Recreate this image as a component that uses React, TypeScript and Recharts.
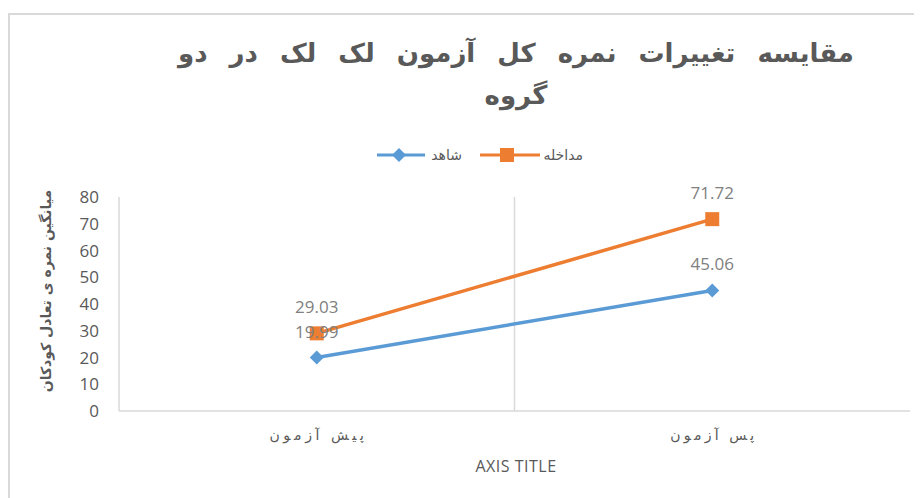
import { LineChart, Line, XAxis, YAxis, ReferenceLine, LabelList } from "recharts";

const categories = ["پیش آزمون", "پس آزمون"];
const controlValues = [19.99, 45.06]; // شاهد
const interventionValues = [29.03, 71.72]; // مداخله
const yTicks = [0, 10, 20, 30, 40, 50, 60, 70, 80];

const data = categories.map((name, i) => ({
    x: i + 0.5,
    name,
    control: controlValues[i],
    intervention: interventionValues[i],
}));

const BLUE = "#5B9BD5";
const ORANGE = "#ED7D31";
const TEXT = "#595959";
const GRID = "#d9d9d9";
const persianFont = "'DejaVu Sans', sans-serif";
const numFont = "'Open Sans', sans-serif";

const Diamond = (props: any) => {
    const { cx, cy } = props;
    if (cx == null || cy == null) return null;
    const r = 7;
    return <path d={`M${cx},${cy - r}L${cx + r},${cy}L${cx},${cy + r}L${cx - r},${cy}Z`} fill={BLUE} />;
};

const Square = (props: any) => {
    const { cx, cy } = props;
    if (cx == null || cy == null) return null;
    return <rect x={cx - 7} y={cy - 7} width={14} height={14} fill={ORANGE} />;
};

const CategoryTick = (props: any) => {
    const { x, y, payload } = props;
    const label = categories[Math.floor(payload.value)];
    return (
        <text
            x={x}
            y={y}
            dy={12}
            textAnchor="middle"
            fill={TEXT}
            fontFamily={persianFont}
            fontSize={14}
            textLength={label.length * 10.5}
            lengthAdjust="spacing"
        >
            {label}
        </text>
    );
};

const fmt = (v: any) => Number(v).toFixed(2);

export default function App() {
    return (
        <div
            style={{
                position: "relative",
                width: 914,
                height: 485,
                marginTop: 5,
                borderTop: `2px solid ${GRID}`,
                borderLeft: `2px solid ${GRID}`,
                boxSizing: "border-box",
            }}
        >
            <div
                style={{
                    position: "absolute",
                    top: 17,
                    left: 0,
                    width: 1012,
                    textAlign: "center",
                    fontFamily: persianFont,
                    fontWeight: "bold",
                    fontSize: 26,
                    color: TEXT,
                    direction: "rtl",
                    lineHeight: "42px",
                    wordSpacing: 13,
                }}
            >
                مقایسه تغییرات نمره کل آزمون لک لک در دو
                <br />
                گروه
            </div>

            {/* legend */}
            <div style={{ position: "absolute", top: 130, left: 0, width: 914, height: 20 }}>
                <svg width={914} height={20} style={{ position: "absolute", left: 0, top: 0 }}>
                    <line x1={367} x2={415} y1={10} y2={10} stroke={BLUE} strokeWidth={3} />
                    <path d="M389,3L396,10L389,17L382,10Z" fill={BLUE} />
                    <text x={452} y={15} textAnchor="end" fontFamily={persianFont} fontSize={14} fill={TEXT}>
                        شاهد
                    </text>
                    <line x1={470} x2={530} y1={10} y2={10} stroke={ORANGE} strokeWidth={3} />
                    <rect x={490} y={3} width={14} height={14} fill={ORANGE} />
                    <text x={573} y={15} textAnchor="end" fontFamily={persianFont} fontSize={14} fill={TEXT}>
                        مداخله
                    </text>
                </svg>
            </div>

            <div
                style={{
                    position: "absolute",
                    left: 36 - 110,
                    top: 268,
                    width: 220,
                    textAlign: "center",
                    transform: "rotate(-90deg)",
                    fontFamily: persianFont,
                    fontWeight: "bold",
                    fontSize: 14,
                    color: TEXT,
                    direction: "rtl",
                }}
            >
                میانگین نمره ی تعادل کودکان
            </div>

            <div
                style={{
                    position: "absolute",
                    left: 0,
                    width: 1012,
                    top: 440,
                    textAlign: "center",
                    fontFamily: numFont,
                    fontSize: 16,
                    color: TEXT,
                    letterSpacing: 0.5,
                }}
            >
                AXIS TITLE
            </div>

            <div style={{ position: "absolute", left: -2, top: -7 }}>
                <LineChart
                    width={914}
                    height={490}
                    data={data}
                    margin={{ top: 189, right: 12, bottom: 57, left: 71 }}
                >
                    <XAxis
                        type="number"
                        dataKey="x"
                        domain={[0, 2]}
                        ticks={data.map((d) => d.x)}
                        height={30}
                        tickLine={false}
                        tickMargin={11}
                        axisLine={{ stroke: GRID, strokeWidth: 1.5 }}
                        tick={<CategoryTick />}
                    />
                    <YAxis
                        domain={[0, 80]}
                        ticks={yTicks}
                        width={40}
                        tickLine={false}
                        tickMargin={14}
                        axisLine={{ stroke: GRID, strokeWidth: 1.5 }}
                        tick={{ fill: TEXT, fontFamily: numFont, fontSize: 17 }}
                    />
                    <ReferenceLine x={1} stroke={GRID} strokeWidth={1.5} />
                    <Line
                        dataKey="control"
                        stroke={BLUE}
                        strokeWidth={3.5}
                        dot={<Diamond />}
                        activeDot={false}
                        isAnimationActive={false}
                    >
                        <LabelList
                            dataKey="control"
                            position="top"
                            offset={20}
                            formatter={fmt}
                            fill="#808080"
                            fontFamily={numFont}
                            fontSize={17}
                        />
                    </Line>
                    <Line
                        dataKey="intervention"
                        stroke={ORANGE}
                        strokeWidth={3.5}
                        dot={<Square />}
                        activeDot={false}
                        isAnimationActive={false}
                    >
                        <LabelList
                            dataKey="intervention"
                            position="top"
                            offset={20}
                            formatter={fmt}
                            fill="#808080"
                            fontFamily={numFont}
                            fontSize={17}
                        />
                    </Line>
                </LineChart>
            </div>
        </div>
    );
}
